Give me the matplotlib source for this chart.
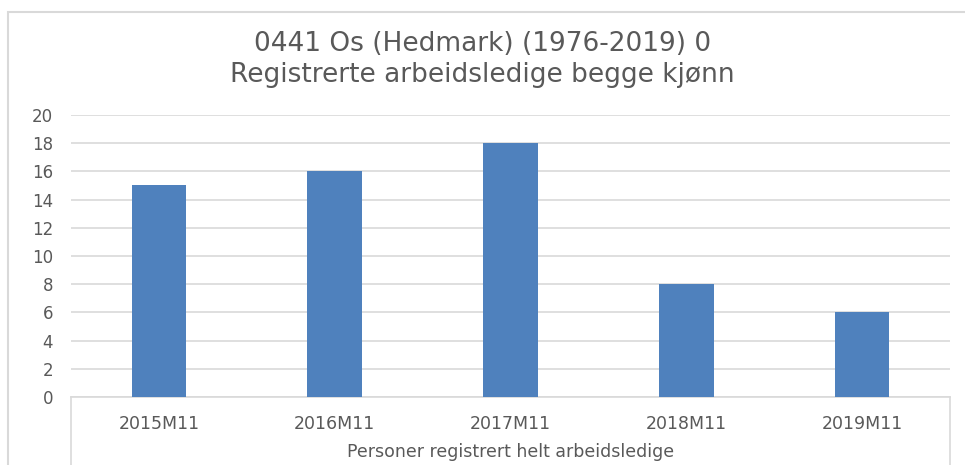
import matplotlib.pyplot as plt
from matplotlib.patches import Rectangle
from matplotlib.lines import Line2D

# data
categories = ['2015M11', '2016M11', '2017M11', '2018M11', '2019M11']
values = [15, 16, 18, 8, 6]
title_lines = ['0441 Os (Hedmark) (1976-2019) 0', 'Registrerte arbeidsledige begge kjønn']
group_label = 'Personer registrert helt arbeidsledige'

plt.rcParams['font.family'] = ['DejaVu Sans']
text_col = '#595959'
grid_col = '#D9D9D9'
bar_col = '#4F81BD'

fig = plt.figure(figsize=(9.65, 4.65), dpi=100, facecolor='white')

# chart frame
W, H = 965, 465
fig.patches.append(Rectangle((8 / W, -0.1), 1.2, 1 - 12 / H + 0.1, transform=fig.transFigure,
                             fill=False, edgecolor=grid_col, linewidth=1.5))

ax = fig.add_axes([71 / W, 1 - 397 / H, (950 - 71) / W, (397 - 115) / H])
x = range(len(categories))
ax.bar(x, values, width=0.31, color=bar_col, zorder=3)
ax.set_xlim(-0.5, len(categories) - 0.5)
ax.set_ylim(0, 20)
ax.set_yticks(range(0, 21, 2))
ax.yaxis.grid(True, color=grid_col, linewidth=1.2)
ax.set_axisbelow(True)
for s in ['top', 'right', 'left']:
    ax.spines[s].set_visible(False)
ax.spines['bottom'].set_color(grid_col)
ax.spines['bottom'].set_linewidth(1.2)
ax.tick_params(axis='y', length=0, pad=13, labelsize=12, labelcolor=text_col)
ax.set_xticks([])

# multi-level category axis
for i, c in enumerate(categories):
    ax.text(i, -1.9, c, ha='center', va='center', fontsize=12.5, color=text_col,
            transform=ax.transData, clip_on=False)
ax.text(0.5, -0.195, group_label, ha='center', va='center', fontsize=12.5,
        color=text_col, transform=ax.transAxes, clip_on=False)
for xv in (0, 1):
    ax.add_line(Line2D([xv, xv], [0, -0.4], transform=ax.transAxes, color=grid_col,
                       linewidth=1.2, clip_on=False))

fig.text(0.5, 1 - 44 / H, title_lines[0], ha='center', va='center', fontsize=19, color=text_col)
fig.text(0.5, 1 - 75 / H, title_lines[1], ha='center', va='center', fontsize=19, color=text_col)

fig.savefig('out.png', dpi=100, facecolor='white')
